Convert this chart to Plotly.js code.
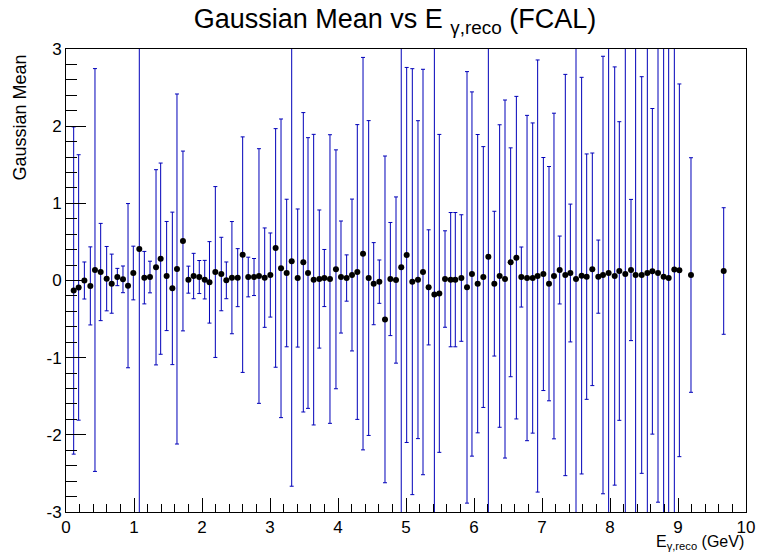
<!DOCTYPE html>
<html>
<head>
<meta charset="utf-8">
<script src="https://cdn.plot.ly/plotly-3.0.1.min.js"></script>
<style>
  html, body { margin: 0; padding: 0; background: #fff; }
  #plot { width: 758px; height: 552px; }
</style>
</head>
<body>
<div id="plot"></div>
<script>
// Photon energy bin centres (GeV)
const energy = [0.113,0.186,0.27,0.358,0.426,0.51,0.598,0.672,0.755,0.838,
  0.912,0.99,1.078,1.152,1.235,1.324,1.392,1.48,1.564,1.632,
  1.72,1.8,1.877,1.96,2.04,2.11,2.196,2.284,2.358,2.44,
  2.525,2.598,2.68,2.765,2.838,2.922,3.005,3.083,3.162,3.245,
  3.319,3.407,3.49,3.559,3.642,3.725,3.799,3.882,3.97,4.044,
  4.127,4.206,4.284,4.368,4.451,4.525,4.608,4.691,4.77,4.853,
  4.93,5.01,5.093,5.176,5.25,5.333,5.417,5.49,5.574,5.657,
  5.725,5.814,5.897,5.97,6.054,6.137,6.211,6.299,6.377,6.456,
  6.539,6.623,6.696,6.78,6.863,6.936,7.02,7.103,7.176,7.26,
  7.343,7.417,7.5,7.583,7.657,7.74,7.828,7.897,7.98,8.069,
  8.137,8.225,8.309,8.377,8.466,8.549,8.623,8.706,8.789,8.863,
  8.946,9.02,9.191,9.672];

// Fitted Gaussian mean in each bin
const gausMean = [-0.13,-0.09,0.0,-0.07,0.136,0.11,0.024,-0.041,0.045,0.015,
  -0.067,0.097,0.409,0.037,0.045,0.171,0.283,0.058,-0.102,0.149,
  0.512,0.011,0.058,0.045,0.011,-0.024,0.11,0.084,0.002,0.037,
  0.037,0.335,0.045,0.045,0.058,0.037,0.071,0.422,0.158,0.097,
  0.249,0.032,0.236,0.097,0.011,0.019,0.032,0.019,0.145,0.045,
  0.032,0.071,0.11,0.348,0.032,-0.041,-0.015,-0.504,0.019,0.006,
  0.171,0.331,-0.015,0.011,0.11,-0.089,-0.18,-0.167,0.019,0.011,
  0.011,0.032,-0.089,0.084,-0.041,0.045,0.309,-0.041,0.058,0.019,
  0.236,0.296,0.045,0.032,0.032,0.058,0.084,-0.041,0.058,0.136,
  0.071,0.097,0.019,0.063,0.05,0.145,0.05,0.071,0.097,0.058,
  0.123,0.084,0.136,0.071,0.071,0.097,0.119,0.097,0.05,0.032,
  0.141,0.132,0.071,0.123];

// Uncertainty on the fitted mean
const gausMeanErr = [2.12,1.72,0.24,0.506,2.61,0.63,0.417,0.383,0.112,0.173,
  1.064,0.348,3.8,0.34,0.205,1.265,1.239,0.707,0.988,2.268,
  1.165,0.175,0.294,0.214,0.25,0.528,1.107,0.476,0.238,0.727,
  0.376,1.526,0.257,0.24,1.65,0.644,0.545,1.546,1.935,0.956,
  2.915,0.895,1.94,1.754,1.883,0.895,0.37,1.87,1.548,0.726,
  0.3,0.984,1.91,2.543,2.04,0.532,0.281,2.117,0.733,1.077,
  3.5,2.43,2.76,2.06,2.627,0.746,3.5,2.06,0.625,0.87,
  0.87,0.82,2.796,2.36,1.933,1.69,3.6,0.938,1.96,2.32,
  1.483,2.09,0.389,2.108,2.01,2.8,1.51,1.518,2.11,0.44,
  2.6,0.893,3.4,2.57,1.59,1.507,0.474,2.835,3.5,2.71,
  1.935,3.3,0.915,3.6,2.57,3.4,2.11,2.97,3.3,3.5,
  3.4,2.415,1.52,0.82];

const xTicks = [0,1,2,3,4,5,6,7,8,9,10];
const yTicks = [-3,-2,-1,0,1,2,3];

const FONT = '"Liberation Sans", Arial, Helvetica, sans-serif';

const trace = {
  type: 'scatter',
  mode: 'markers',
  x: energy,
  y: gausMean,
  marker: { color: '#000000', size: 6, symbol: 'circle' },
  error_y: {
    type: 'data',
    array: gausMeanErr,
    symmetric: true,
    visible: true,
    color: 'rgb(0,0,185)',
    thickness: 1,
    width: 2
  },
  hoverinfo: 'x+y'
};

const layout = {
  width: 758,
  height: 552,
  paper_bgcolor: '#ffffff',
  plot_bgcolor: '#ffffff',
  showlegend: false,
  margin: { l: 66, r: 12, t: 49, b: 40 },
  font: { family: FONT, color: '#000000' },
  title: {
    text: 'Gaussian Mean vs E <sub>γ,reco</sub> (FCAL)',
    font: { family: FONT, size: 27, color: '#000000' },
    xref: 'container', x: 0.521, xanchor: 'center',
    yref: 'container', y: 0.966, yanchor: 'middle'
  },
  xaxis: {
    range: [0, 10],
    tickvals: xTicks,
    ticktext: xTicks.map(String),
    ticks: 'inside',
    ticklen: 14,
    tickwidth: 1,
    tickcolor: '#000000',
    minor: { dtick: 0.2, ticks: 'inside', ticklen: 8, tickcolor: '#000000', tickwidth: 1, showgrid: false },
    showline: true, linecolor: '#000000', linewidth: 1, mirror: true,
    showgrid: false, zeroline: false,
    tickfont: { family: FONT, size: 17, color: '#000000' },
    fixedrange: true
  },
  yaxis: {
    range: [-3, 3],
    tickvals: yTicks,
    ticktext: yTicks.map(String),
    ticks: 'inside',
    ticklen: 20,
    tickwidth: 1,
    tickcolor: '#000000',
    minor: { dtick: 0.2, ticks: 'inside', ticklen: 11, tickcolor: '#000000', tickwidth: 1, showgrid: false },
    showline: true, linecolor: '#000000', linewidth: 1, mirror: true,
    showgrid: false, zeroline: false,
    tickfont: { family: FONT, size: 17, color: '#000000' },
    fixedrange: true
  },
  annotations: [
    {
      text: 'Gaussian Mean',
      xref: 'paper', yref: 'paper',
      x: -0.068, y: 0.992,
      xanchor: 'center', yanchor: 'top',
      textangle: -90,
      showarrow: false,
      font: { family: FONT, size: 18, color: '#000000' }
    },
    {
      text: 'E<sub>γ,reco</sub> (GeV)',
      xref: 'paper', yref: 'paper',
      x: 1.0, y: -0.04,
      xanchor: 'right', yanchor: 'top',
      showarrow: false,
      font: { family: FONT, size: 16, color: '#000000' }
    }
  ]
};

Plotly.newPlot('plot', [trace], layout, { staticPlot: true, displayModeBar: false });
</script>
</body>
</html>
